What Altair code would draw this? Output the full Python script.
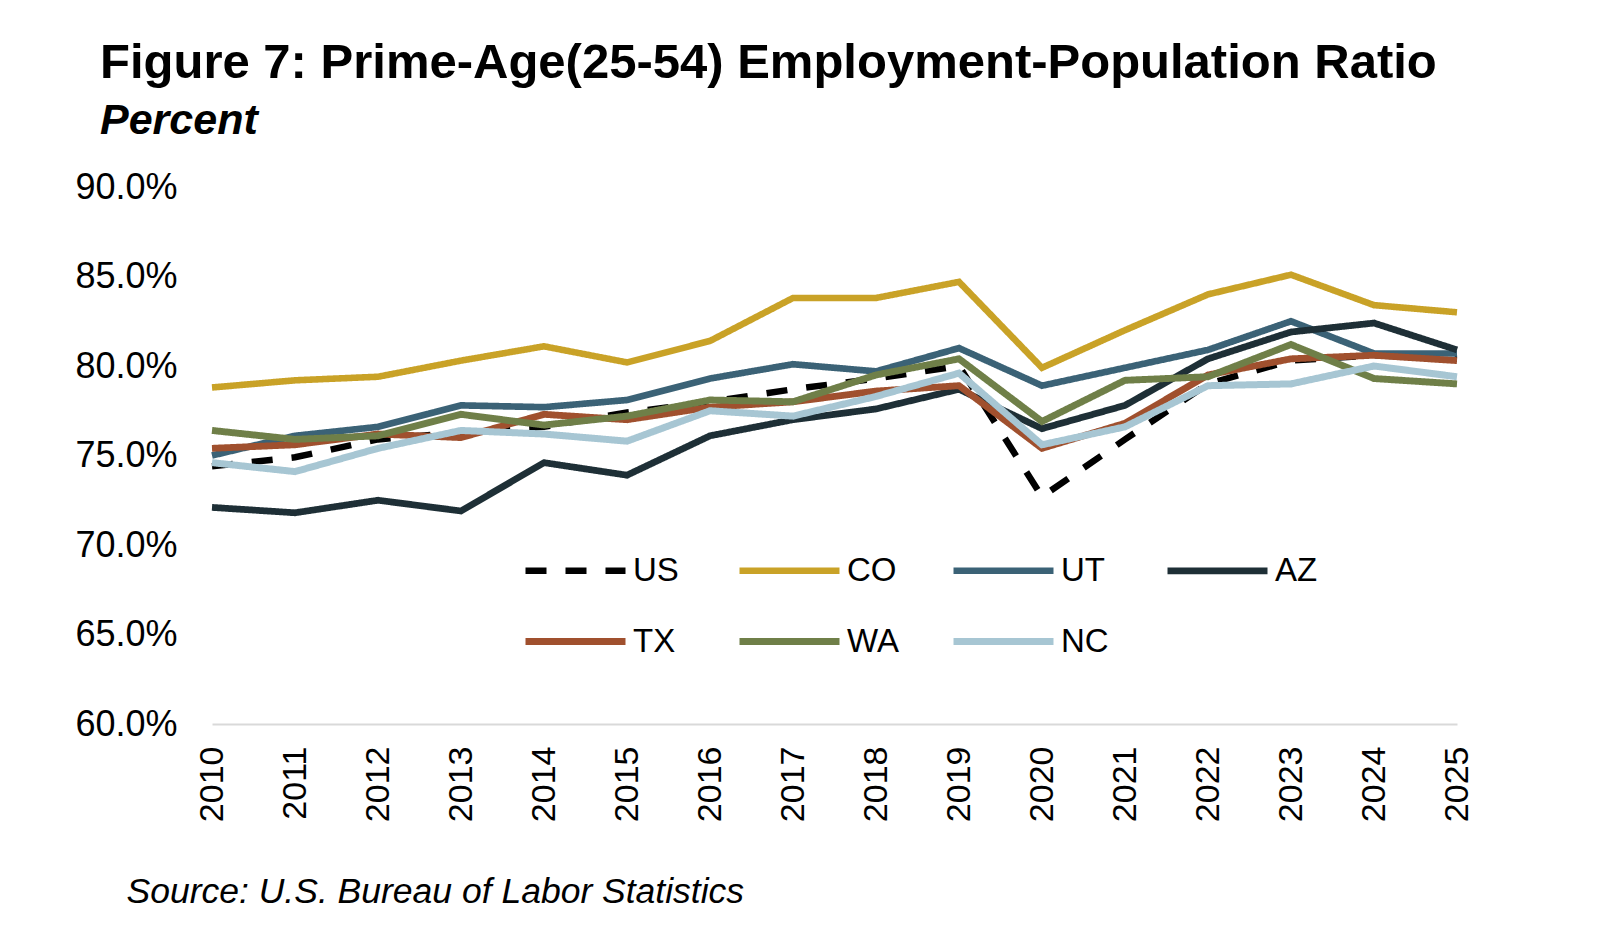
import altair as alt
import pandas as pd

years = list(range(2010, 2026))
states = ["US", "CO", "UT", "AZ", "TX", "WA", "NC"]

us = [74.4, 74.9, 75.9, 76.3, 76.6, 77.4, 78.0, 78.7, 79.3, 80.0, 72.7, 75.9, 79.0, 80.3, 80.6, 80.4]
co = [78.8, 79.2, 79.4, 80.3, 81.1, 80.2, 81.4, 83.8, 83.8, 84.7, 79.9, 82.0, 84.0, 85.1, 83.4, 83.0]
ut = [75.0, 76.1, 76.6, 77.8, 77.7, 78.1, 79.3, 80.1, 79.7, 81.0, 78.9, 79.9, 80.9, 82.5, 80.7, 80.7]
az = [72.1, 71.8, 72.5, 71.9, 74.6, 73.9, 76.1, 77.0, 77.6, 78.7, 76.5, 77.8, 80.4, 81.9, 82.4, 80.9]
tx = [75.4, 75.6, 76.2, 76.0, 77.3, 77.0, 77.7, 78.0, 78.6, 78.9, 75.4, 76.8, 79.5, 80.4, 80.6, 80.3]
wa = [76.4, 75.9, 76.1, 77.3, 76.7, 77.2, 78.1, 78.0, 79.5, 80.4, 76.9, 79.2, 79.4, 81.2, 79.3, 79.0]
nc = [74.6, 74.1, 75.4, 76.4, 76.2, 75.8, 77.5, 77.2, 78.3, 79.6, 75.6, 76.6, 78.9, 79.0, 80.0, 79.4]

series = [us, co, ut, az, tx, wa, nc]
colors = ["#000000", "#C9A227", "#3B6276", "#1E2F36", "#A0502E", "#6F7F48", "#A7C6D3"]
dashes = [[21, 19], [1, 0], [1, 0], [1, 0], [1, 0], [1, 0], [1, 0]]
widths = [6.5, 7, 5.8, 5.8, 5.8, 5.8, 5.8]
y_ticks = [60, 65, 70, 75, 80, 85, 90]

rows = []
for s, vals in zip(states, series):
    for yr, v in zip(years, vals):
        rows.append({"year": yr, "state": s, "value": v})
df = pd.DataFrame(rows)

W, H = 1245, 537
FONT = "Liberation Sans"

legend = alt.Legend(title=None)

chart = alt.Chart(df).mark_line(strokeJoin="miter").encode(
    x=alt.X(
        "year:Q",
        scale=alt.Scale(domain=[2010, 2025], nice=False, zero=False),
        axis=alt.Axis(
            values=years, format="d", labelAngle=-90, labelFontSize=34,
            labelFont=FONT, labelColor="black", labelPadding=22,
            ticks=False, grid=False, domainColor="#D9D9D9", domainWidth=2,
            title="Source: U.S. Bureau of Labor Statistics",
            titleFont=FONT, titleFontSize=35.5, titleFontStyle="italic",
            titleFontWeight="normal", titleColor="black",
            titleAlign="left", titleAnchor="start", titleX=-86, titleY=178,
            titleBaseline="alphabetic", labelFlush=False, labelOverlap=False,
        ),
    ),
    y=alt.Y(
        "value:Q",
        scale=alt.Scale(domain=[60, 90], nice=False, zero=False),
        axis=alt.Axis(
            values=y_ticks, labelExpr="format(datum.value, '.1f') + '%'",
            domain=False, ticks=False, grid=False, title=None,
            labelFontSize=36, labelFont=FONT, labelColor="black", labelPadding=35,
        ),
    ),
    color=alt.Color("state:N", scale=alt.Scale(domain=states, range=colors), sort=states, legend=legend),
    strokeDash=alt.StrokeDash("state:N", scale=alt.Scale(domain=states, range=dashes), sort=states, legend=legend),
    strokeWidth=alt.StrokeWidth("state:O", scale=alt.Scale(domain=states, range=widths), sort=states, legend=None),
).properties(
    width=W,
    height=H,
    background="white",
    title=alt.Title(
        text="Figure 7: Prime-Age(25-54) Employment-Population Ratio",
        subtitle="Percent",
        anchor="start", frame="group", dx=-112,
        font=FONT, fontSize=49, fontWeight="bold", color="black",
        subtitleFont=FONT, subtitleFontSize=43, subtitleFontStyle="italic",
        subtitleFontWeight="bold", subtitleColor="black",
        subtitlePadding=12, offset=26,
    ),
    padding={"left": 204, "top": 179, "right": 150, "bottom": 190},
    autosize=alt.AutoSizeParams(type="none"),
).configure_view(strokeWidth=0, stroke=None).configure_legend(
    orient="none", legendX=310, legendY=330, columns=4, direction="horizontal",
    symbolType="stroke", symbolSize=10000, symbolStrokeWidth=6,
    labelFont=FONT, labelFontSize=33, labelColor="black", labelOffset=4,
    gridAlign="all", columnPadding=40, rowPadding=-18,
)

chart.save("out.html", embed_options={"renderer": "svg", "actions": False})
